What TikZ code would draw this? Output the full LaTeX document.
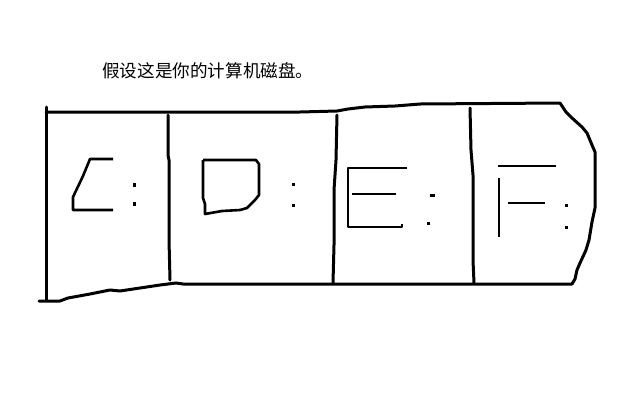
\documentclass[tikz,border=0pt]{standalone}
\usepackage{fontspec}
\newfontfamily\cjk{Noto Sans CJK SC}
\begin{document}
\begin{tikzpicture}[x=1pt,y=-1pt,
  edge/.style={line width=3pt,line join=round,line cap=round},
  letter/.style={line width=2.6pt,line join=round},
  dot/.style={fill=black}]
\useasboundingbox (0,0) rectangle (640,400);
\node[font=\cjk\fontsize{17.6pt}{20pt}\selectfont,anchor=west,inner sep=0pt] (title) at (102,71) {假设这是你的计算机磁盘。};
% outer outline
\draw[edge] (46,107) -- (46,300);
\draw[edge] (46,112) -- (300,112) -- (337,111) -- (348,109) -- (365,107) -- (395,106) -- (420,104) -- (560,103)
  -- (566,112) -- (572,118) -- (582,127) -- (587,133) -- (592,145) -- (595,152) -- (595,208) -- (592,222) -- (589,240)
  -- (586,250) -- (580,263) -- (577,270) -- (575,279) -- (572,284);
\draw[edge] (572,284) -- (183,284) -- (176,283) -- (160,285) -- (140,288) -- (120,291) -- (110,290) -- (90,294) -- (68,298) -- (60,301) -- (39,301);
% dividers
\draw[edge] (168,115) -- (168,155) -- (169,160) -- (169,240) -- (170,280);
\draw[edge] (337,115) -- (336,160) -- (334,190) -- (334,245) -- (333,283);
\draw[edge] (470,108) -- (471,150) -- (473,175) -- (473,260) -- (474,283);
% C
\draw[letter] (113,159) -- (90,159) -- (83,176) -- (73,197) -- (73,210) -- (113,210);
\fill[dot] (132.5,183) rectangle (135.5,187);
\fill[dot] (132.5,202) rectangle (135.5,206);
% D
\draw[letter] (203,160) -- (256,160) -- (259,164) -- (259,195) -- (255,200) -- (247,208) -- (240,210) -- (222,211) -- (205,214) -- (205,204) -- (203,198) -- (203,160);
\fill[dot] (291.5,182.5) rectangle (294.5,185.5);
\fill[dot] (291.5,203.5) rectangle (294.5,206.5);
% E
\draw[letter] (407,168) -- (348,168) -- (348,227) -- (402,227) -- (402,224);
\draw[letter] (352,194) -- (396,194);
\fill[dot] (430,193.5) rectangle (435,196.5);
\fill[dot] (426.5,221.5) rectangle (429.5,224.5);
% F
\draw[letter] (498,166) -- (556,166);
\draw[letter] (499,178) -- (499,237);
\draw[letter] (508,203) -- (545,203);
\fill[dot] (565,203.5) rectangle (568,206.5);
\fill[dot] (564.5,225.5) rectangle (567.5,228.5);
\end{tikzpicture}
\end{document}
